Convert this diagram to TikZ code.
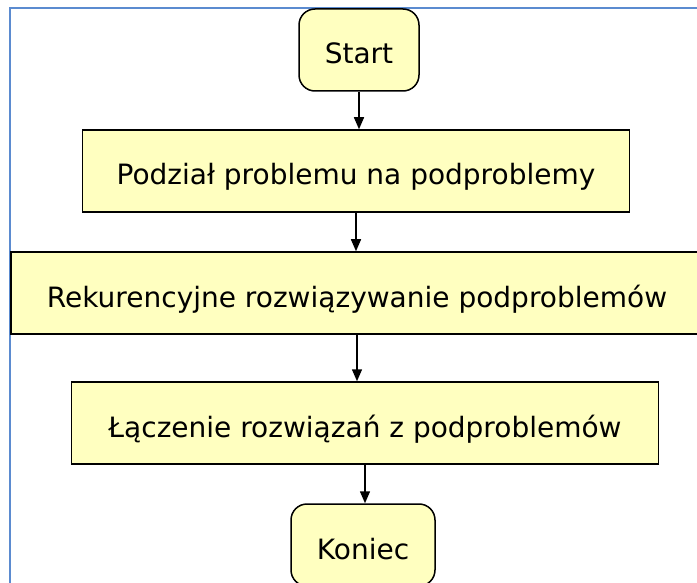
\documentclass[tikz,border=0pt]{standalone}
\usepackage{fontspec}
\setmainfont{DejaVu Sans}
\usetikzlibrary{positioning,arrows.meta}

\definecolor{boxfill}{RGB}{255,255,192}
\definecolor{framecol}{RGB}{91,139,208}

\tikzset{
    stepbox/.style={draw, fill=boxfill, line width=1.5pt, minimum height=82pt, inner sep=0pt,
        text height=28pt, text depth=0pt},
    termbox/.style={stepbox, rounded corners=16pt},
}

\begin{document}
\begin{tikzpicture}[x=1pt,y=-1pt,font=\fontsize{28}{33}\selectfont,>={Triangle[width=10pt,length=12pt]}]
    \clip (0,0) rectangle (697,583);
    \fill[white] (0,0) rectangle (697,583);
    \draw[framecol,line width=2.2pt] (10,600) -- (10,8) -- (710,8);
    \node[termbox,minimum width=120pt] (start) at (359,50) {Start};
    \node[stepbox,minimum width=547pt] (podzial) at (356,171) {Podział problemu na podproblemy};
    \node[stepbox,minimum width=692pt] (rekur) at (357,293) {Rekurencyjne rozwiązywanie podproblemów};
    \node[stepbox,minimum width=587pt] (laczenie) at (365,423) {Łączenie rozwiązań z podproblemów};
    \node[termbox,minimum width=144pt] (koniec) at (363,545) {Koniec};
    \path[->,line width=1.5pt]
        (start.south) edge (start.south |- podzial.north)
        (podzial.south) edge (podzial.south |- rekur.north)
        (rekur.south) edge (rekur.south |- laczenie.north)
        (laczenie.south) edge (laczenie.south |- koniec.north);
\end{tikzpicture}
\end{document}
